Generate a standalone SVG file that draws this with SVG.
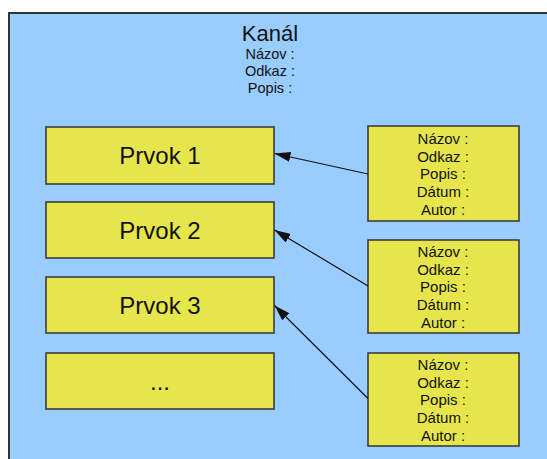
<svg xmlns="http://www.w3.org/2000/svg" width="547" height="459" viewBox="0 0 547 459">
  <style>
    .bg { fill: #99ccff; stroke: #333333; stroke-width: 2; }
    .box { fill: #e6e64c; stroke: #333333; stroke-width: 1.5; }
    text { font-family: "Liberation Sans", Arial, sans-serif; fill: #111111; text-anchor: middle; }
    .title { font-size: 22px; }
    .item { font-size: 24px; }
    .small { font-size: 14.5px; }
    .field { font-size: 15px; }
    .link { stroke: #111111; stroke-width: 1.2; fill: none; marker-end: url(#arrow); }
  </style>
  <defs>
    <marker id="arrow" markerWidth="16" markerHeight="10" refX="16" refY="5" orient="auto" markerUnits="userSpaceOnUse">
      <path d="M0,0 L16,5 L0,10 Z" fill="#111111"/>
    </marker>
  </defs>

  <rect width="547" height="459" fill="#ffffff"/>

  <!-- channel container -->
  <g id="kanal">
    <rect class="bg" x="9" y="13" width="560" height="470"/>
    <text class="title" x="270" y="41">Kanál</text>
    <text class="small" x="270" y="59">Názov :</text>
    <text class="small" x="270" y="76">Odkaz :</text>
    <text class="small" x="270" y="93">Popis :</text>
  </g>

  <!-- items -->
  <g id="prvok1">
    <rect class="box" x="46" y="127" width="228" height="57"/>
    <text class="item" x="160" y="164">Prvok 1</text>
  </g>
  <g id="prvok2">
    <rect class="box" x="46" y="202" width="228" height="56"/>
    <text class="item" x="160" y="239">Prvok 2</text>
  </g>
  <g id="prvok3">
    <rect class="box" x="46" y="277" width="228" height="56"/>
    <text class="item" x="160" y="314">Prvok 3</text>
  </g>
  <g id="prvok-dalsie">
    <rect class="box" x="46" y="353" width="228" height="56"/>
    <text class="item" x="160" y="390">...</text>
  </g>

  <!-- item detail boxes -->
  <g id="detail1">
    <rect class="box" x="368" y="126" width="151" height="95"/>
    <text class="field" x="443" y="144">Názov :</text>
    <text class="field" x="443" y="162">Odkaz :</text>
    <text class="field" x="443" y="179">Popis :</text>
    <text class="field" x="443" y="197">Dátum :</text>
    <text class="field" x="443" y="215">Autor :</text>
  </g>
  <g id="detail2">
    <rect class="box" x="368" y="240" width="151" height="93"/>
    <text class="field" x="443" y="257">Názov :</text>
    <text class="field" x="443" y="275">Odkaz :</text>
    <text class="field" x="443" y="292">Popis :</text>
    <text class="field" x="443" y="310">Dátum :</text>
    <text class="field" x="443" y="328">Autor :</text>
  </g>
  <g id="detail3">
    <rect class="box" x="368" y="353" width="151" height="93"/>
    <text class="field" x="443" y="370">Názov :</text>
    <text class="field" x="443" y="388">Odkaz :</text>
    <text class="field" x="443" y="405">Popis :</text>
    <text class="field" x="443" y="423">Dátum :</text>
    <text class="field" x="443" y="441">Autor :</text>
  </g>

  <!-- connectors -->
  <g id="connectors">
    <line class="link" x1="368" y1="174" x2="274.5" y2="153.5"/>
    <line class="link" x1="368" y1="286" x2="274.5" y2="230"/>
    <line class="link" x1="368" y1="398.5" x2="274.5" y2="305.5"/>
  </g>
</svg>
